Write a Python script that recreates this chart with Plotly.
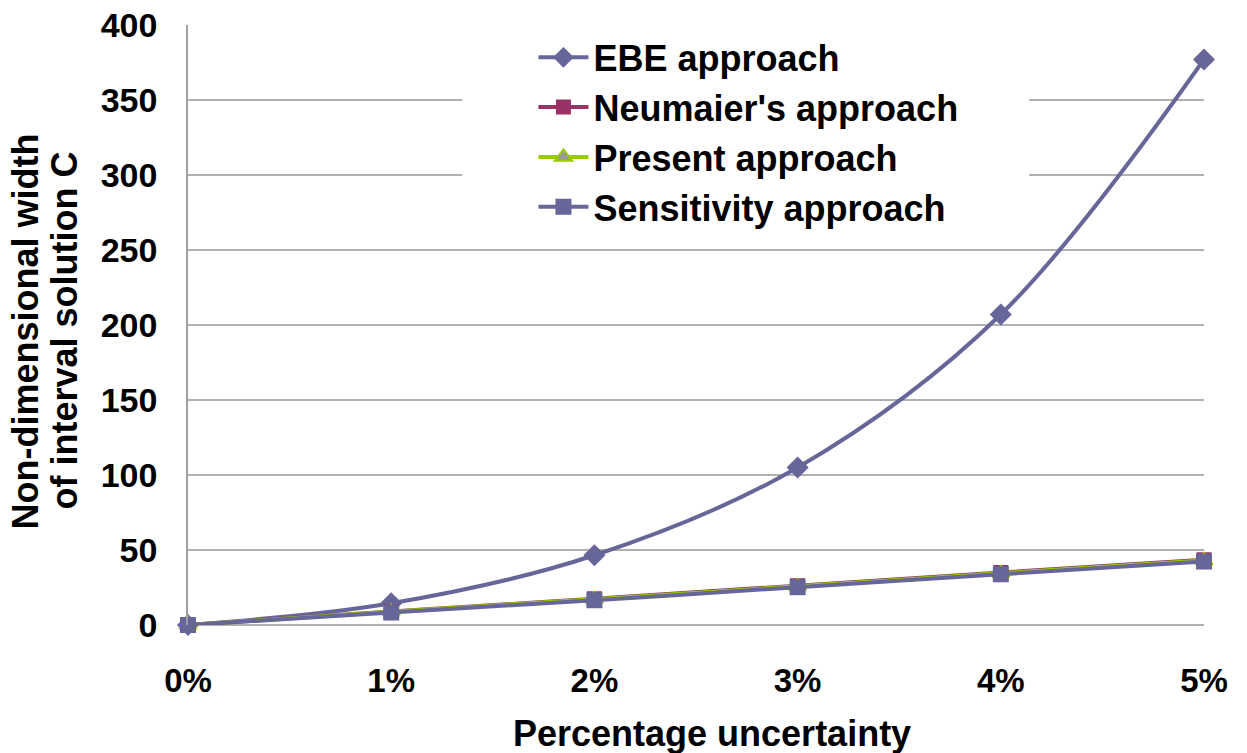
import plotly.graph_objects as go

x_vals = [0, 1, 2, 3, 4, 5]
x_labels = ["0%", "1%", "2%", "3%", "4%", "5%"]
y_ticks = [0, 50, 100, 150, 200, 250, 300, 350, 400]
ebe = [0, 14.5, 46.5, 105, 207, 377]
neumaier = [0, 9.0, 17.5, 26.2, 35.0, 43.5]
present = [0, 8.8, 17.2, 25.8, 34.5, 43.0]
sensitivity = [0, 8.3, 16.5, 25.2, 33.8, 42.3]

FONT = "Liberation Sans, Arial, sans-serif"

fig = go.Figure()
fig.add_trace(go.Scatter(x=x_vals, y=ebe, name="EBE approach", mode="lines+markers",
                         line=dict(color="#666699", width=4, shape="spline", smoothing=1),
                         marker=dict(symbol="diamond", size=17, color="#666699"),
                         cliponaxis=False))
fig.add_trace(go.Scatter(x=x_vals, y=neumaier, name="Neumaier's approach", mode="lines+markers",
                         line=dict(color="#993366", width=4, shape="spline", smoothing=1),
                         marker=dict(symbol="square", size=15, color="#993366"),
                         cliponaxis=False))
fig.add_trace(go.Scatter(x=x_vals, y=present, name="Present approach", mode="lines+markers",
                         line=dict(color="#99CC00", width=4, shape="spline", smoothing=1),
                         marker=dict(symbol="triangle-up", size=15, color="#999999",
                                     line=dict(color="#99CC00", width=2)),
                         cliponaxis=False))
fig.add_trace(go.Scatter(x=x_vals, y=sensitivity, name="Sensitivity approach", mode="lines+markers",
                         line=dict(color="#666699", width=4, shape="spline", smoothing=1),
                         marker=dict(symbol="square", size=16, color="#666699"),
                         cliponaxis=False))

title_font = dict(family=FONT, size=36, color="black", weight="bold")

fig.update_layout(
    width=1247, height=753,
    margin=dict(l=188, r=43, t=25, b=128, autoexpand=False),
    paper_bgcolor="white", plot_bgcolor="white",
    font=dict(family=FONT, size=36, color="black", weight="bold"),
    showlegend=True,
    legend=dict(x=0.34, y=0.996, xanchor="left", yanchor="top",
                bgcolor="rgba(0,0,0,0)", borderwidth=0,
                font=dict(family=FONT, size=36, color="black", weight="bold"),
                itemwidth=50),
    shapes=[dict(type="rect", xref="x", yref="y", x0=1.35, x1=4.14, y0=256, y1=398,
                 fillcolor="white", line=dict(width=0), layer="between")],
    annotations=[
        dict(text="Percentage uncertainty", xref="paper", yref="paper",
             x=0.516, y=-0.18, xanchor="center", yanchor="middle", showarrow=False,
             font=title_font),
        dict(text="Non-dimensional width", xref="paper", yref="paper",
             x=-0.16, y=0.49, xanchor="center", yanchor="middle", showarrow=False,
             textangle=-90, font=title_font),
        dict(text="of interval solution C", xref="paper", yref="paper",
             x=-0.1225, y=0.49, xanchor="center", yanchor="middle", showarrow=False,
             textangle=-90, font=title_font),
    ],
    xaxis=dict(
        range=[0, 5], tickmode="array", tickvals=x_vals, ticktext=x_labels,
        showgrid=False, zeroline=False, showline=False, automargin=False,
        ticks="", ticklabelstandoff=33,
        tickfont=dict(family=FONT, size=33, color="black", weight="bold"),
    ),
    yaxis=dict(
        range=[0, 400], tickmode="array", tickvals=y_ticks, automargin=False,
        showgrid=True, gridcolor="#b0b0b0", gridwidth=1.5,
        zeroline=True, zerolinecolor="#b0b0b0", zerolinewidth=1.5,
        showline=True, linecolor="#a0a0a0", linewidth=1.5,
        ticks="", ticklabelstandoff=22,
        tickfont=dict(family=FONT, size=34, color="black", weight="bold"),
    ),
)

fig.write_html("out.html")
